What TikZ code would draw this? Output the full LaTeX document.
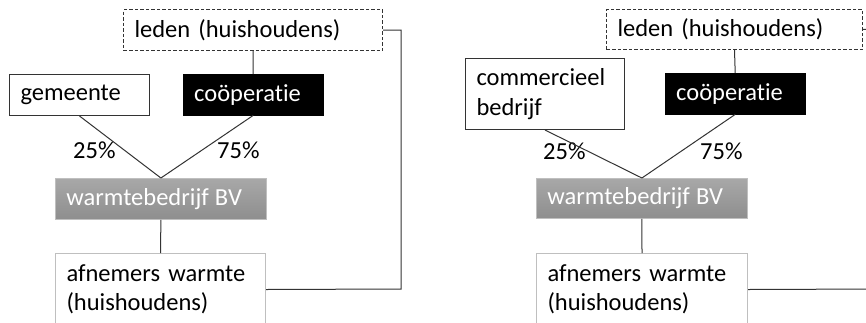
\documentclass[tikz,border=0pt]{standalone}
\usepackage{fontspec}
\setmainfont{Carlito}[Ligatures=NoCommon]
\definecolor{ln}{HTML}{333333}
\definecolor{lgb}{HTML}{BFBFBF}
\definecolor{wbtop}{HTML}{A8A8A8}
\definecolor{wbbot}{HTML}{8E8E8E}
\tikzset{
  base/.style={rectangle, anchor=north west, inner xsep=11pt, inner ysep=2pt, align=left,
    font=\fontsize{24.5}{29.5}\selectfont},
  whitebox/.style={base, draw=ln, line width=1pt, fill=white, text=black},
  dashbox/.style={base, draw=ln, line width=1pt, dash pattern=on 3.5pt off 2pt},
  blackbox/.style={base, draw=black, fill=black, text=white},
  graybox/.style={base, draw=lgb, line width=0.8pt, top color=wbtop, bottom color=wbbot, text=white},
  lightbox/.style={base, draw=lgb, line width=1pt, fill=white, text=black},
  pct/.style={anchor=base west, inner sep=0pt, font=\fontsize{24.5}{29.5}\selectfont},
  conn/.style={draw=ln, line width=1pt},
}
\begin{document}
\begin{tikzpicture}[x=1pt,y=-1pt]
\useasboundingbox (0,0) rectangle (866,322);
\fill[white] (0,0) rectangle (866,322);
\begin{scope}
\clip (0,0) rectangle (866,322);
% ---------- left diagram ----------
\node[dashbox, text width=237pt, minimum height=41pt] (ledenL) at (123,9) {leden (huishoudens)};
\node[whitebox, text width=118pt, minimum height=41pt] (gem) at (9,74) {gemeente};
\node[blackbox, text width=118pt, minimum height=41pt] (coopL) at (183,74) {coöperatie};
\node[graybox, text width=189pt, minimum height=41pt] (wbL) at (55,178) {warmtebedrijf\hspace{-2pt} BV};
\node[lightbox, text width=188pt, minimum height=72pt] (afnL) at (55,253) {afnemers warmte\\(huishoudens)};
\node[pct] (p25L) at (73,158) {25\%};
\node[pct] (p75L) at (217,158) {75\%};
\coordinate (cL) at (401,289);
\draw[conn] (ledenL.south) -- (coopL.north);
\draw[conn] (gem.south) -- (wbL.north);
\draw[conn] (coopL.south) -- (wbL.north);
\draw[conn] (wbL.south) -- (afnL.north);
\draw[conn] (afnL.east) -- (cL) |- (ledenL.east);
% ---------- right diagram ----------
\node[dashbox, text width=234pt, minimum height=40pt] (ledenR) at (606,9) {leden (huishoudens)};
\node[whitebox, text width=137pt, minimum height=71pt] (com) at (465,58) {commercieel\\bedrijf};
\node[blackbox, text width=118pt, minimum height=41pt] (coopR) at (665,73) {coöperatie};
\node[graybox, text width=189pt, minimum height=40pt] (wbR) at (536,178) {warmtebedrijf\hspace{-2pt} BV};
\node[lightbox, text width=189pt, minimum height=72pt] (afnR) at (536,253) {afnemers warmte\\(huishoudens)};
\node[pct] (p25R) at (543,159) {25\%};
\node[pct] (p75R) at (700,159) {75\%};
\coordinate (cR1) at (880,289);
\coordinate (cR2) at (880,29);
\draw[conn] (ledenR.south) -- (coopR.north);
\draw[conn] (com.south) -- (wbR.north);
\draw[conn] (coopR.south) -- (wbR.north);
\draw[conn] (wbR.south) -- (afnR.north);
\draw[conn] (afnR.east) -- (cR1);
\draw[conn] (ledenR.east) -- (cR2);
\end{scope}
\end{tikzpicture}
\end{document}
